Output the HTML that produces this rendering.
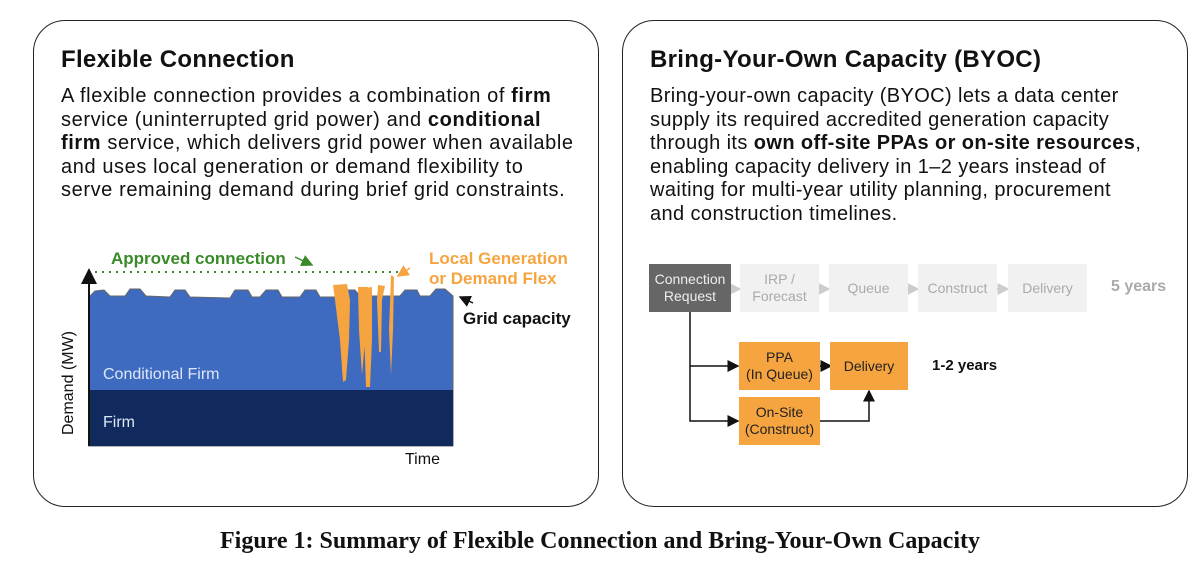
<!DOCTYPE html>
<html><head><meta charset="utf-8"><style>
body{margin:0;width:1200px;height:569px;background:#fff;position:relative;overflow:hidden;font-family:"Liberation Sans",sans-serif;color:#111}
.panel{position:absolute;top:20px;width:566px;height:487px;border:1.5px solid #222;border-radius:32px;box-sizing:border-box}
.t{position:absolute;white-space:nowrap}
.h{font-size:24px;font-weight:bold;letter-spacing:0.3px}
.p{font-size:20px;line-height:23.6px;letter-spacing:0.6px}
.box{position:absolute;display:flex;align-items:center;justify-content:center;text-align:center;font-size:14px;line-height:17px}
.g{background:#f1f1f1;color:#aaa}
.o{background:#f6a43f;color:#222}
</style></head><body>
<div class="panel" style="left:33px"></div>
<div class="panel" style="left:622px"></div>

<div class="t h" style="left:61px;top:46px">Flexible Connection</div>
<div class="t p" style="left:61px;top:85px">A flexible connection provides a combination of <b>firm</b><br>service (uninterrupted grid power) and <b>conditional</b><br><b>firm</b> service, which delivers grid power when available<br>and uses local generation or demand flexibility to<br>serve remaining demand during brief grid constraints.</div>

<div class="t h" style="left:650px;top:46px">Bring-Your-Own Capacity (BYOC)</div>
<div class="t p" style="left:650px;top:85px;letter-spacing:0.4px">Bring-your-own capacity (BYOC) lets a data center<br>supply its required accredited generation capacity<br>through its <b>own off-site PPAs or on-site resources</b>,<br>enabling capacity delivery in 1–2 years instead of<br>waiting for multi-year utility planning, procurement<br>and construction timelines.</div>

<svg style="position:absolute;left:0;top:0" width="1200" height="569">
<defs><marker id="a" markerWidth="8" markerHeight="8" refX="7" refY="4" orient="auto"><path d="M0,0L8,4L0,8z" fill="#111"/></marker>
<marker id="ag" markerWidth="8" markerHeight="8" refX="7" refY="4" orient="auto"><path d="M0,0L8,4L0,8z" fill="#ccc"/></marker>
<marker id="gr" markerWidth="8" markerHeight="8" refX="7" refY="4" orient="auto"><path d="M0,0L8,4L0,8z" fill="#3a8a2a"/></marker>
<marker id="or" markerWidth="8" markerHeight="8" refX="7" refY="4" orient="auto"><path d="M0,0L8,4L0,8z" fill="#f6a43f"/></marker></defs>
<path d="M89,297 L95,291 L104,290 L110,296 L125,296 L130,289 L140,289 L146,296 L170,297 L175,290 L185,290 L190,297 L230,298 L235,290 L248,290 L252,297 L260,297 L266,290 L278,290 L282,297 L300,297 L305,290 L316,290 L320,297 L340,297 L345,290 L355,290 L360,296 L400,296 L405,290 L417,290 L420,296 L430,296 L436,289 L445,289 L453,296 L453,446 L89,446 Z" fill="#3e6bbf" stroke="#666" stroke-width="1"/>
<rect x="89" y="390" width="364" height="56" fill="#102a5e"/>
<path d="M333,285 L347,284 L350,300 L349,340 L346,380 L343,382 L340,340 L335,300 Z" fill="#f6a43f"/>
<path d="M358,287 L368,287 L366,330 L362,375 L359,330 Z" fill="#f6a43f"/>
<path d="M365,288 L372,287 L372,340 L370,387 L366,387 L364,330 Z" fill="#f6a43f"/>
<path d="M378,285 L385,286 L382,300 L381,352 L379,352 L377,300 Z" fill="#f6a43f"/>
<path d="M391,275 L394,277 L393,330 L391,375 L389,330 Z" fill="#f6a43f"/>
<line x1="89" y1="446" x2="89" y2="270" stroke="#111" stroke-width="2" marker-end="url(#a)"/>
<line x1="95" y1="272" x2="405" y2="272" stroke="#3a8a2a" stroke-width="2" stroke-dasharray="2,5"/>
<line x1="295" y1="257" x2="312" y2="265" stroke="#3a8a2a" stroke-width="1.5" marker-end="url(#gr)"/>
<line x1="410" y1="268" x2="398" y2="276" stroke="#f6a43f" stroke-width="1.5" marker-end="url(#or)"/>
<line x1="473" y1="303" x2="460" y2="297" stroke="#111" stroke-width="1.5" marker-end="url(#a)"/>
<line x1="731" y1="289" x2="740" y2="289" stroke="#ccc" stroke-width="1.5" marker-end="url(#ag)"/>
<line x1="820" y1="289" x2="829" y2="289" stroke="#ccc" stroke-width="1.5" marker-end="url(#ag)"/>
<line x1="908" y1="289" x2="918" y2="289" stroke="#ccc" stroke-width="1.5" marker-end="url(#ag)"/>
<line x1="997" y1="289" x2="1008" y2="289" stroke="#ccc" stroke-width="1.5" marker-end="url(#ag)"/>
<polyline points="690,312 690,421 738,421" fill="none" stroke="#111" stroke-width="1.5" marker-end="url(#a)"/>
<line x1="690" y1="366" x2="738" y2="366" stroke="#111" stroke-width="1.5" marker-end="url(#a)"/>
<line x1="820" y1="366" x2="831" y2="366" stroke="#111" stroke-width="1.5" marker-end="url(#a)"/>
<polyline points="820,421 869,421 869,391" fill="none" stroke="#111" stroke-width="1.5" marker-end="url(#a)"/>
</svg>

<div class="t" style="left:111px;top:249px;font-size:17px;color:#3a8a2a;font-weight:bold">Approved connection</div>
<div class="t" style="left:429px;top:249px;font-size:17px;line-height:20px;color:#f6a43f;font-weight:bold">Local Generation<br>or Demand Flex</div>
<div class="t" style="left:463px;top:309px;font-size:17px;font-weight:bold">Grid capacity</div>
<div class="t" style="left:103px;top:366px;font-size:16px;color:#dde6f7">Conditional Firm</div>
<div class="t" style="left:103px;top:414px;font-size:16px;color:#dde6f7">Firm</div>
<div class="t" style="left:405px;top:451px;font-size:16px">Time</div>
<div class="t" style="left:60px;top:435px;font-size:16px;transform:rotate(-90deg);transform-origin:0 0">Demand (MW)</div>

<div class="box" style="left:649px;top:264px;width:82px;height:48px;background:#666;color:#eee">Connection<br>Request</div>
<div class="box g" style="left:740px;top:264px;width:79px;height:48px">IRP /<br>Forecast</div>
<div class="box g" style="left:829px;top:264px;width:79px;height:48px">Queue</div>
<div class="box g" style="left:918px;top:264px;width:79px;height:48px">Construct</div>
<div class="box g" style="left:1008px;top:264px;width:79px;height:48px">Delivery</div>
<div class="t" style="left:1111px;top:278px;font-size:16px;color:#aaa;font-weight:bold">5 years</div>
<div class="box o" style="left:739px;top:342px;width:81px;height:48px">PPA<br>(In Queue)</div>
<div class="box o" style="left:830px;top:342px;width:78px;height:48px">Delivery</div>
<div class="box o" style="left:739px;top:397px;width:81px;height:48px">On-Site<br>(Construct)</div>
<div class="t" style="left:932px;top:357px;font-size:15px;font-weight:bold">1-2 years</div>

<div class="t" style="left:0;width:1200px;text-align:center;top:528px;font-family:'Liberation Serif',serif;font-weight:bold;font-size:24px">Figure 1: Summary of Flexible Connection and Bring-Your-Own Capacity</div>
</body></html>
